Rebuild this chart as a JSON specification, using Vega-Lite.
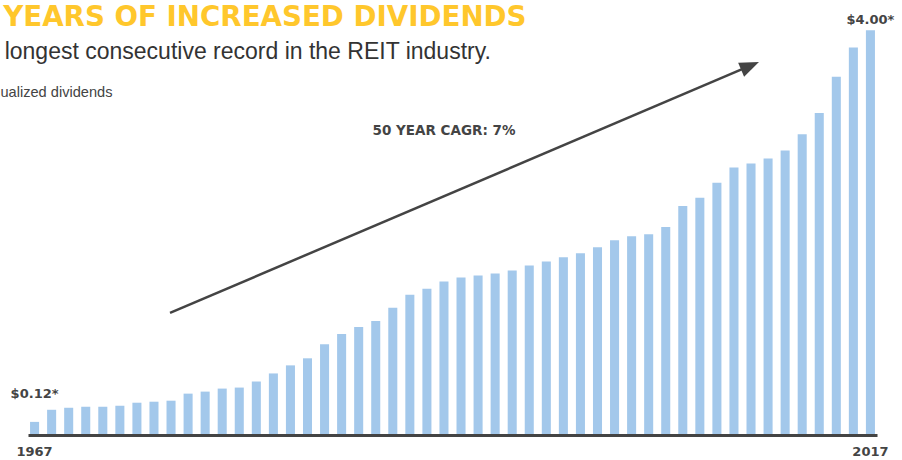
{
  "$schema": "https://vega.github.io/schema/vega-lite/v6.json",
  "width": 849,
  "height": 434,
  "autosize": {"type": "none"},
  "padding": {"left": 28, "top": 0, "right": 25, "bottom": 26},
  "background": "white",
  "config": {"view": {"stroke": null}},
  "title": {
    "text": "50 YEARS OF INCREASED DIVIDENDS",
    "anchor": "start",
    "frame": "group",
    "orient": "top",
    "offset": 0,
    "dx": -73,
    "dy": 54,
    "font": "DejaVu Sans",
    "fontSize": 27.7,
    "fontWeight": "bold",
    "color": "#ffc72c",
    "baseline": "alphabetic"
  },
  "data": {
    "values": [
      {"bar": 1, "dividend": 0.12, "note": "$0.12*"},
      {"bar": 2, "dividend": 0.24},
      {"bar": 3, "dividend": 0.26},
      {"bar": 4, "dividend": 0.27},
      {"bar": 5, "dividend": 0.27},
      {"bar": 6, "dividend": 0.28},
      {"bar": 7, "dividend": 0.31},
      {"bar": 8, "dividend": 0.32},
      {"bar": 9, "dividend": 0.33},
      {"bar": 10, "dividend": 0.40},
      {"bar": 11, "dividend": 0.42},
      {"bar": 12, "dividend": 0.45},
      {"bar": 13, "dividend": 0.46},
      {"bar": 14, "dividend": 0.52},
      {"bar": 15, "dividend": 0.60},
      {"bar": 16, "dividend": 0.68},
      {"bar": 17, "dividend": 0.75},
      {"bar": 18, "dividend": 0.89},
      {"bar": 19, "dividend": 0.99},
      {"bar": 20, "dividend": 1.06},
      {"bar": 21, "dividend": 1.12},
      {"bar": 22, "dividend": 1.25},
      {"bar": 23, "dividend": 1.38},
      {"bar": 24, "dividend": 1.44},
      {"bar": 25, "dividend": 1.51},
      {"bar": 26, "dividend": 1.55},
      {"bar": 27, "dividend": 1.57},
      {"bar": 28, "dividend": 1.59},
      {"bar": 29, "dividend": 1.62},
      {"bar": 30, "dividend": 1.67},
      {"bar": 31, "dividend": 1.71},
      {"bar": 32, "dividend": 1.75},
      {"bar": 33, "dividend": 1.79},
      {"bar": 34, "dividend": 1.85},
      {"bar": 35, "dividend": 1.92},
      {"bar": 36, "dividend": 1.96},
      {"bar": 37, "dividend": 1.98},
      {"bar": 38, "dividend": 2.05},
      {"bar": 39, "dividend": 2.26},
      {"bar": 40, "dividend": 2.34},
      {"bar": 41, "dividend": 2.49},
      {"bar": 42, "dividend": 2.64},
      {"bar": 43, "dividend": 2.68},
      {"bar": 44, "dividend": 2.73},
      {"bar": 45, "dividend": 2.81},
      {"bar": 46, "dividend": 2.97},
      {"bar": 47, "dividend": 3.18},
      {"bar": 48, "dividend": 3.54},
      {"bar": 49, "dividend": 3.83},
      {"bar": 50, "dividend": 4.00, "note": "$4.00*"}
    ]
  },
  "layer": [
    {
      "mark": {"type": "bar", "color": "#a3c8eb"},
      "encoding": {
        "x": {
          "field": "bar",
          "type": "ordinal",
          "scale": {"paddingInner": 0.47, "paddingOuter": 0.12},
          "axis": {
            "values": [1, 50],
            "labelExpr": "datum.value == 1 ? '1967' : '2017'",
            "title": null,
            "ticks": false,
            "tickSize": 0,
            "grid": false,
            "offset": 1,
            "domainColor": "#444444",
            "domainWidth": 3,
            "labelAngle": 0,
            "labelFont": "DejaVu Sans",
            "labelFontWeight": "bold",
            "labelFontSize": 13,
            "labelColor": "#444444",
            "labelBaseline": "alphabetic",
            "labelPadding": 20
          }
        },
        "y": {
          "field": "dividend",
          "type": "quantitative",
          "scale": {"domain": [0, 4.3], "nice": false},
          "axis": {
            "title": "Annualized dividends",
            "labels": false,
            "ticks": false,
            "domain": false,
            "grid": false,
            "titleAngle": 0,
            "titleAlign": "left",
            "titleBaseline": "alphabetic",
            "titleX": -54,
            "titleY": 96,
            "titleFont": "Liberation Sans",
            "titleFontSize": 14.6,
            "titleFontWeight": "normal",
            "titleColor": "#444444"
          }
        }
      }
    },
    {
      "transform": [{"filter": "datum.bar == 1"}],
      "mark": {"type": "text", "dy": -24, "baseline": "alphabetic", "font": "DejaVu Sans", "fontWeight": "bold", "fontSize": 13, "color": "#444444"},
      "encoding": {
        "x": {"field": "bar", "type": "ordinal", "axis": null},
        "y": {"field": "dividend", "type": "quantitative", "axis": null},
        "text": {"field": "note"}
      }
    },
    {
      "transform": [{"filter": "datum.bar == 50"}],
      "mark": {"type": "text", "dy": -6, "baseline": "alphabetic", "font": "DejaVu Sans", "fontWeight": "bold", "fontSize": 13, "color": "#444444"},
      "encoding": {
        "x": {"field": "bar", "type": "ordinal", "axis": null},
        "y": {"field": "dividend", "type": "quantitative", "axis": null},
        "text": {"field": "note"}
      }
    },
    {
      "data": {"values": [{"label": "50 YEAR CAGR: 7%"}]},
      "mark": {"type": "text", "baseline": "alphabetic", "font": "DejaVu Sans", "fontWeight": "bold", "fontSize": 13.5, "color": "#444444"},
      "encoding": {
        "x": {
          "datum": 25,
          "type": "ordinal",
          "axis": {
            "orient": "top",
            "title": "the longest consecutive record in the REIT industry.",
            "labels": false,
            "ticks": false,
            "domain": false,
            "grid": false,
            "titleAngle": 0,
            "titleAlign": "left",
            "titleBaseline": "alphabetic",
            "titleX": -62.2,
            "titleY": 58,
            "titleFont": "Liberation Sans",
            "titleFontSize": 23,
            "titleFontWeight": "normal",
            "titleColor": "#333333"
          }
        },
        "y": {"datum": 2.96, "type": "quantitative", "axis": null},
        "text": {"field": "label"}
      }
    },
    {
      "data": {"values": [{"arrow": "CAGR"}]},
      "mark": {"type": "rule", "xOffset": -1, "x2Offset": -3, "strokeWidth": 2.5, "color": "#444444"},
      "encoding": {
        "x": {"datum": 9, "type": "ordinal", "axis": null},
        "x2": {"datum": 43},
        "y": {"datum": 1.2, "type": "quantitative", "axis": null},
        "y2": {"datum": 3.639}
      }
    },
    {
      "data": {"values": [{"arrow": "CAGR"}]},
      "mark": {"type": "point", "shape": "M0,-1L0.64,0.63L-0.64,0.63Z", "size": 566, "angle": 67, "filled": true, "color": "#444444", "opacity": 1, "strokeWidth": 0, "xOffset": -3},
      "encoding": {
        "x": {"datum": 43, "type": "ordinal", "axis": null},
        "y": {"datum": 3.639, "type": "quantitative", "axis": null}
      }
    }
  ],
  "resolve": {"axis": {"x": "independent", "y": "independent"}}
}
